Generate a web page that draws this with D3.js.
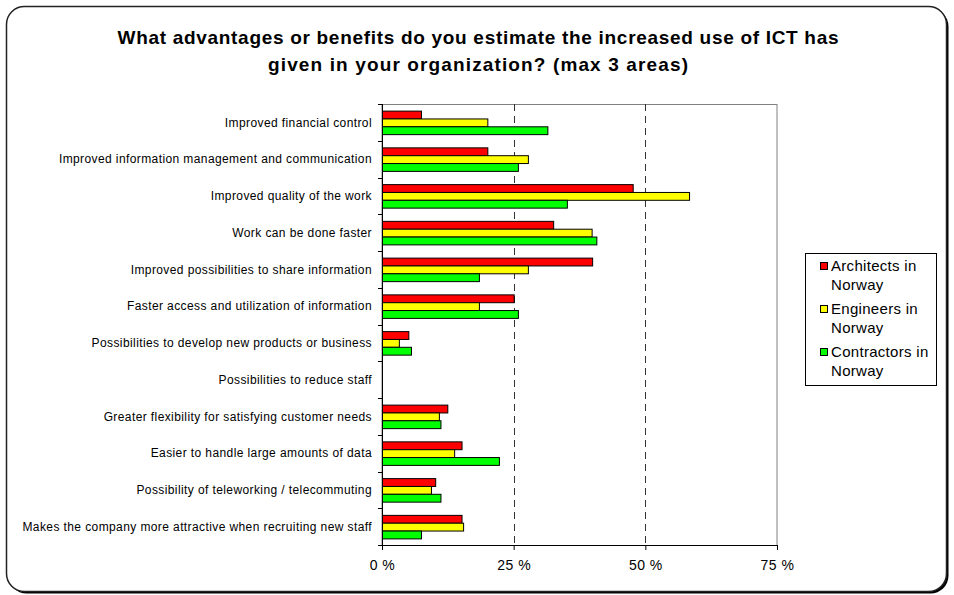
<!DOCTYPE html>
<html>
<head>
<meta charset="utf-8">
<script src="https://cdn.jsdelivr.net/npm/d3@7"></script>
<style>
  html, body { margin: 0; padding: 0; background: #fff; }
  svg { display: block; }
  text { font-family: "Liberation Sans", Arial, sans-serif; fill: #000; }
</style>
</head>
<body>
<svg id="chart" width="954" height="595"></svg>
<script>
const titleLines = [
  "What advantages or benefits do you estimate the increased use of ICT has",
  "given in your organization? (max 3 areas)"
];
const titleWidths = [721, 420];
const categories = [
  "Improved financial control",
  "Improved information management and communication",
  "Improved quality of the work",
  "Work can be done faster",
  "Improved possibilities to share information",
  "Faster access and utilization of information",
  "Possibilities to develop new products or business",
  "Possibilities to reduce staff",
  "Greater flexibility for satisfying customer needs",
  "Easier to handle large amounts of data",
  "Possibility of teleworking / telecommuting",
  "Makes the company more attractive when recruiting new staff"
];
const seriesNames = ["Architects in Norway", "Engineers in Norway", "Contractors in Norway"];
const legendLines = [["Architects in", "Norway"], ["Engineers in", "Norway"], ["Contractors in", "Norway"]];
const seriesColors = ["#ff0000", "#ffff00", "#00ff00"];
const architects  = [0.074, 0.200, 0.476, 0.325, 0.399, 0.250, 0.050, 0, 0.124, 0.151, 0.101, 0.151];
const engineers   = [0.200, 0.277, 0.583, 0.398, 0.277, 0.184, 0.032, 0, 0.108, 0.137, 0.093, 0.154];
const contractors = [0.314, 0.258, 0.351, 0.407, 0.184, 0.258, 0.055, 0, 0.111, 0.222, 0.111, 0.074];
const xTicks = [0, 0.25, 0.5, 0.75];
const xTickLabels = ["0 %", "25 %", "50 %", "75 %"];

const seriesValues = [architects, engineers, contractors];
const svg = d3.select("#chart");

// outer frame with shadow
svg.append("rect").attr("x", 8.5).attr("y", 8.5).attr("width", 940).attr("height", 585)
  .attr("rx", 18).attr("fill", "#000");
svg.append("rect").attr("x", 6.5).attr("y", 6.5).attr("width", 940).attr("height", 585)
  .attr("rx", 18).attr("fill", "#fff").attr("stroke", "#222").attr("stroke-width", 1.5);

// title
svg.append("g").selectAll("text").data(titleLines).join("text")
  .attr("x", 478).attr("y", (d, i) => 44 + i * 27).attr("text-anchor", "middle")
  .attr("textLength", (d, i) => titleWidths[i]).attr("lengthAdjust", "spacing")
  .style("font-size", "19px").style("font-weight", "bold")
  .text(d => d);

const plot = { left: 382, right: 777, top: 104, bottom: 545 };
const x = d3.scaleLinear().domain([0, 0.75]).range([plot.left, plot.right]);
const y0 = d3.scaleBand().domain(categories).range([plot.top, plot.bottom])
  .paddingInner(0.36).paddingOuter(0.18);
const y1 = d3.scaleBand().domain(d3.range(seriesNames.length)).range([0, y0.bandwidth()]);

// plot area border (gray)
svg.append("rect").attr("x", plot.left).attr("y", plot.top + 0.5)
  .attr("width", plot.right - plot.left).attr("height", plot.bottom - plot.top)
  .attr("fill", "none").attr("stroke", "#808080").attr("stroke-width", 1);

// dashed gridlines
svg.append("g").selectAll("line").data(xTicks.filter(t => t > 0 && t < 0.75)).join("line")
  .attr("x1", d => Math.round(x(d)) + 0.5).attr("x2", d => Math.round(x(d)) + 0.5)
  .attr("y1", plot.top).attr("y2", plot.bottom)
  .attr("stroke", "#333").attr("stroke-dasharray", "7,5").attr("stroke-width", 1);

// bars
const groups = svg.append("g").selectAll("g").data(categories).join("g")
  .attr("transform", c => `translate(0,${y0(c)})`);
groups.selectAll("rect").data((c, i) => seriesValues.map((s, k) => ({ k, v: s[i] })))
  .join("rect")
  .filter(d => d.v > 0)
  .attr("x", x(0) + 0.5)
  .attr("y", d => y1(d.k) + 0.5)
  .attr("width", d => x(d.v) - x(0))
  .attr("height", y1.bandwidth())
  .attr("fill", d => seriesColors[d.k])
  .attr("stroke", "#000").attr("stroke-width", 1);

// y axis
const yAxisG = svg.append("g");
yAxisG.append("line").attr("x1", plot.left + 0.5).attr("x2", plot.left + 0.5)
  .attr("y1", plot.top).attr("y2", plot.bottom + 0.5).attr("stroke", "#000");
const boundaries = d3.range(categories.length + 1).map(i => plot.top + i * y0.step());
yAxisG.selectAll(".yt").data(boundaries).join("line")
  .attr("x1", plot.left - 4).attr("x2", plot.left)
  .attr("y1", d => Math.round(d) + 0.5).attr("y2", d => Math.round(d) + 0.5)
  .attr("stroke", "#000");
yAxisG.selectAll("text").data(categories).join("text")
  .attr("x", 372).attr("y", c => y0(c) + y0.bandwidth() / 2)
  .attr("dy", "0.35em").attr("text-anchor", "end")
  .style("font-size", "12px").style("letter-spacing", "0.4px").text(c => c);

// x axis
const xAxis = d3.axisBottom(x).tickValues(xTicks).tickSize(5)
  .tickFormat((d, i) => xTickLabels[i]);
const xg = svg.append("g").attr("transform", `translate(0,${plot.bottom})`).call(xAxis);
xg.select(".domain").attr("stroke", "#000");
xg.selectAll(".tick line").attr("stroke", "#000");
xg.selectAll(".tick text").style("font-size", "14px").style("letter-spacing", "0.5px")
  .style("font-family", '"Liberation Sans", Arial, sans-serif').attr("fill", "#000").attr("dy", "1.2em");

// legend
const lg = svg.append("g");
lg.append("rect").attr("x", 805.5).attr("y", 253.5).attr("width", 131).attr("height", 132)
  .attr("fill", "#fff").attr("stroke", "#000");
const items = lg.selectAll("g").data(seriesNames).join("g")
  .attr("transform", (d, i) => `translate(0,${266 + i * 43})`);
items.append("rect").attr("x", 820.5).attr("y", -3.5).attr("width", 7).attr("height", 7)
  .attr("fill", (d, i) => seriesColors[i]).attr("stroke", "#000");
items.append("text").attr("x", 831).attr("y", 0).style("font-size", "15px").style("letter-spacing", "0.3px")
  .selectAll("tspan").data((d, i) => legendLines[i]).join("tspan")
  .attr("x", 831).attr("dy", (d, j) => j === 0 ? "0.35em" : "19px").text(d => d);
</script>
</body>
</html>
